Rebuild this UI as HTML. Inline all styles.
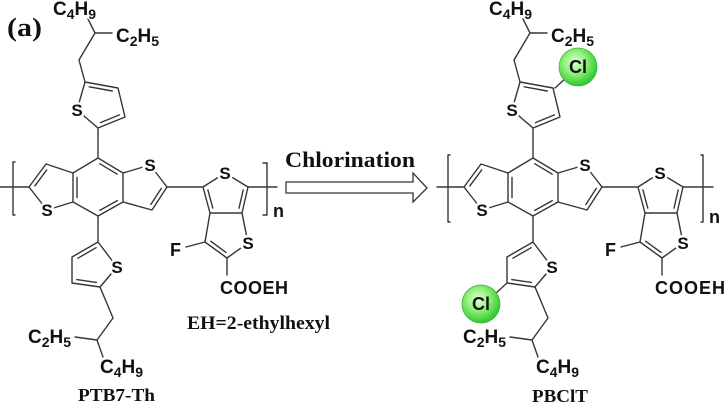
<!DOCTYPE html>
<html><head><meta charset="utf-8"><style>
html,body{margin:0;padding:0;background:#fff;}
svg{display:block;}
.s{font-family:"Liberation Sans",sans-serif;font-weight:bold;font-size:17px;text-anchor:middle;fill:#111;stroke:#fff;stroke-width:5px;paint-order:stroke;stroke-linejoin:round;}
.l{font-family:"Liberation Sans",sans-serif;font-weight:bold;font-size:18px;fill:#111;stroke:#fff;stroke-width:3px;paint-order:stroke;}
.f{font-family:"Liberation Sans",sans-serif;font-weight:bold;font-size:19px;fill:#111;stroke:#fff;stroke-width:3px;paint-order:stroke;}
.sub{font-size:14px;}
.t{font-family:"Liberation Serif",serif;font-weight:bold;fill:#111;}
</style></head><body>
<svg width="727" height="405" viewBox="0 0 727 405" xmlns="http://www.w3.org/2000/svg">
<defs>
<radialGradient id="g" cx="42%" cy="38%" r="62%">
<stop offset="0" stop-color="#e0ffd8"/>
<stop offset="0.45" stop-color="#96f27e"/>
<stop offset="1" stop-color="#2ec82e"/>
</radialGradient>
</defs>

<!-- LEFT MOLECULE -->
<g fill="none" stroke="#363636" stroke-width="1.4" stroke-linejoin="round" stroke-linecap="round">
<path d="M0,187H29"/>
<path d="M15,162H13V215H15 M263,163H267V215H263"/>
<path d="M29,187L46,164L73,173V202L47,210L29,187"/>
<path d="M73,173L98,158L123,173V202L98,216L73,202"/>
<path d="M123,173L150,165L167,187L152,210L123,202"/>
<path d="M167,187H203L225,173L248,187L242,213H210L203,187"/>
<path d="M248,187H277"/>
<path d="M210,213L205,242L227,258L248,243L242,213"/>
<path d="M205,242L186,247"/>
<path d="M227,258V275"/>
<path d="M98,158V128L77,110L85,82L118,88L125,117L98,128"/>
<path d="M85,82L79,60L95,33H112M95,33L88,19"/>
<path d="M98,216V242L117,267L100,287L72,283V257L98,242"/>
<path d="M100,287L113,318L97,340L75,337M97,340L103,357"/>
<path d="M34.8,185.9L46.7,169.9 M77,177.5V197.5 M99.7,163.7L117.2,174.2 M117.3,200.6L99.8,210.4 M161.4,188.3L150.9,204.4 M89.2,86.8L112.3,91 M119.4,114.9L100.5,122.6 M96.1,247.7L77.9,258.2 M76.8,279.6L96.4,282.4 M207.9,189.9L212.8,208.1 M243.2,190L239,208.2 M210.7,241.2L226,252.4"/>
</g>
<g>
<text class="s" x="47" y="216">S</text>
<text class="s" x="150" y="171">S</text>
<text class="s" x="77" y="116">S</text>
<text class="s" x="117" y="273">S</text>
<text class="s" x="225" y="179">S</text>
<text class="s" x="248" y="249">S</text>
<text class="f" x="53" y="15">C<tspan class="sub" dy="4">4</tspan><tspan dy="-4">H</tspan><tspan class="sub" dy="4">9</tspan></text>
<text class="f" x="116" y="42">C<tspan class="sub" dy="4">2</tspan><tspan dy="-4">H</tspan><tspan class="sub" dy="4">5</tspan></text>
<text class="f" x="28" y="343">C<tspan class="sub" dy="4">2</tspan><tspan dy="-4">H</tspan><tspan class="sub" dy="4">5</tspan></text>
<text class="f" x="100" y="373">C<tspan class="sub" dy="4">4</tspan><tspan dy="-4">H</tspan><tspan class="sub" dy="4">9</tspan></text>
<text class="l" x="170" y="256">F</text>
<text class="l" x="220" y="294" textLength="68">COOEH</text>
<text class="l" x="273" y="217" style="stroke:none">n</text>
</g>

<!-- ARROW -->
<path d="M286,182H413V173L427,188L413,202V193H286Z" fill="#fff" stroke="#363636" stroke-width="1.3" stroke-linejoin="miter"/>
<text class="t" x="285" y="167" font-size="22" textLength="130" lengthAdjust="spacingAndGlyphs">Chlorination</text>

<!-- RIGHT MOLECULE -->
<g fill="none" stroke="#363636" stroke-width="1.4" stroke-linejoin="round" stroke-linecap="round">
<path d="M437,187H464"/>
<path d="M450,155H448V222H450 M701,155H703V222H701"/>
<path d="M555,88L566,78 M507,283L495,294"/>
</g>
<g transform="translate(435,0)" fill="none" stroke="#363636" stroke-width="1.4" stroke-linejoin="round" stroke-linecap="round">
<path d="M29,187L46,164L73,173V202L47,210L29,187"/>
<path d="M73,173L98,158L123,173V202L98,216L73,202"/>
<path d="M123,173L150,165L167,187L152,210L123,202"/>
<path d="M167,187H203L225,173L248,187L242,213H210L203,187"/>
<path d="M248,187H278"/>
<path d="M210,213L205,242L227,258L248,243L242,213"/>
<path d="M205,242L186,247"/>
<path d="M227,258V275"/>
<path d="M98,158V128L77,110L85,82L118,88L125,117L98,128"/>
<path d="M85,82L79,60L95,33H112M95,33L88,19"/>
<path d="M98,216V242L117,267L100,287L72,283V257L98,242"/>
<path d="M100,287L113,318L97,340L75,337M97,340L103,357"/>
<path d="M34.8,185.9L46.7,169.9 M77,177.5V197.5 M99.7,163.7L117.2,174.2 M117.3,200.6L99.8,210.4 M161.4,188.3L150.9,204.4 M89.2,86.8L112.3,91 M119.4,114.9L100.5,122.6 M96.1,247.7L77.9,258.2 M76.8,279.6L96.4,282.4 M207.9,189.9L212.8,208.1 M243.2,190L239,208.2 M210.7,241.2L226,252.4"/>
</g>
<g>
<text class="s" x="482" y="216">S</text>
<text class="s" x="585" y="171">S</text>
<text class="s" x="512" y="116">S</text>
<text class="s" x="552" y="273">S</text>
<text class="s" x="660" y="179">S</text>
<text class="s" x="683" y="249">S</text>
<text class="f" x="489" y="15">C<tspan class="sub" dy="4">4</tspan><tspan dy="-4">H</tspan><tspan class="sub" dy="4">9</tspan></text>
<text class="f" x="551" y="42">C<tspan class="sub" dy="4">2</tspan><tspan dy="-4">H</tspan><tspan class="sub" dy="4">5</tspan></text>
<text class="f" x="463" y="343">C<tspan class="sub" dy="4">2</tspan><tspan dy="-4">H</tspan><tspan class="sub" dy="4">5</tspan></text>
<text class="f" x="536" y="373">C<tspan class="sub" dy="4">4</tspan><tspan dy="-4">H</tspan><tspan class="sub" dy="4">9</tspan></text>
<text class="l" x="605" y="256">F</text>
<text class="l" x="655" y="294" textLength="70">COOEH</text>
<text class="l" x="709" y="223" style="stroke:none">n</text>
</g>

<!-- Cl circles -->
<circle cx="578" cy="67" r="19" fill="url(#g)" stroke="#3cb83c" stroke-width="0.8"/>
<text class="l" x="578" y="73" text-anchor="middle" style="stroke:none" font-size="17">Cl</text>
<circle cx="481" cy="304" r="19" fill="url(#g)" stroke="#3cb83c" stroke-width="0.8"/>
<text class="l" x="481" y="310" text-anchor="middle" style="stroke:none" font-size="17">Cl</text>

<!-- captions -->
<text class="t" x="7" y="36" font-size="26" textLength="35" lengthAdjust="spacingAndGlyphs">(a)</text>
<text class="t" x="187" y="329" font-size="19" textLength="143" lengthAdjust="spacingAndGlyphs">EH=2-ethylhexyl</text>
<text class="t" x="78" y="401" font-size="18" textLength="77" lengthAdjust="spacingAndGlyphs">PTB7-Th</text>
<text class="t" x="532" y="402" font-size="18" textLength="56" lengthAdjust="spacingAndGlyphs">PBClT</text>
</svg>
</body></html>
